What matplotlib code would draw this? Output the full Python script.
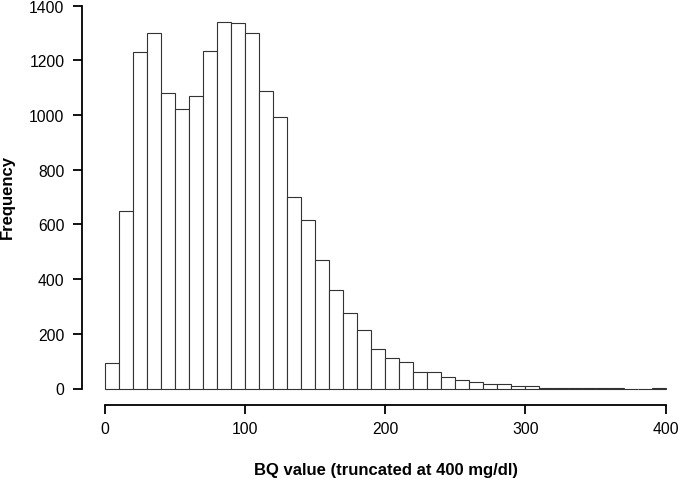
import matplotlib
matplotlib.use("Agg")
import matplotlib.pyplot as plt
import numpy as np

bin_edges = list(range(0, 410, 10))
counts = [94, 648, 1231, 1301, 1082, 1022, 1071, 1235, 1339, 1335,
          1301, 1088, 993, 700, 616, 471, 360, 277, 214, 146,
          113, 96, 61, 61, 41, 30, 22, 15, 15, 10,
          10, 3, 3, 2, 2, 2, 2, 0, 0, 3]
x_ticks = [0, 100, 200, 300, 400]
y_ticks = [0, 200, 400, 600, 800, 1000, 1200, 1400]
x_label = "BQ value (truncated at 400 mg/dl)"
y_label = "Frequency"

plt.rcParams['font.family'] = ['Liberation Sans', 'DejaVu Sans']

fig = plt.figure(figsize=(6.8, 4.85), dpi=100)
ax = fig.add_axes([104.7 / 680, 95.5 / 485, 561 / 680, 382.8 / 485])

ax.bar(bin_edges[:-1], counts, width=10, align='edge', facecolor='white',
       edgecolor='#333333', linewidth=0.8, clip_on=False)

ax.set_xlim(0, 400)
ax.set_ylim(0, 1400)

for s in ['top', 'right']:
    ax.spines[s].set_visible(False)
ax.spines['left'].set_position(('outward', 16.5))
ax.spines['bottom'].set_position(('outward', 11.7))
ax.spines['left'].set_bounds(0, 1400)
ax.spines['bottom'].set_bounds(0, 400)
for s in ['left', 'bottom']:
    ax.spines[s].set_linewidth(1.3)
    ax.spines[s].set_color('black')

ax.set_xticks(x_ticks)
ax.set_yticks(y_ticks)
ax.tick_params(axis='both', length=6.5, width=1.3, labelsize=11.3, colors='black')
ax.tick_params(axis='y', pad=6)
ax.tick_params(axis='x', pad=5)

fig.text(386 / 680, 1 - 471 / 485, x_label, ha='center', va='center',
         fontsize=12, fontweight='bold')
fig.text(7.5 / 680, 1 - 197 / 485, y_label, ha='center', va='center',
         rotation=90, fontsize=12, fontweight='bold')

fig.savefig("out.png", dpi=100, facecolor='white')
